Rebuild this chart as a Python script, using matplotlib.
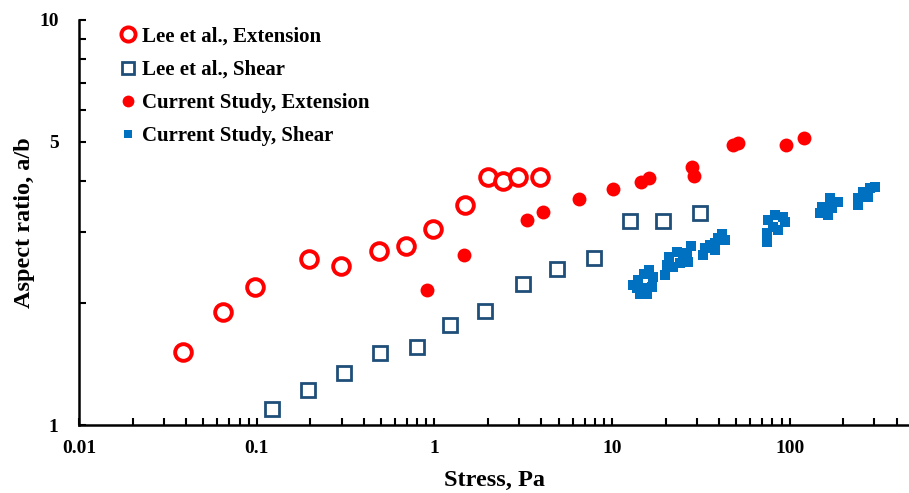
"""Aspect ratio vs stress, log-log scatter (Lee et al. vs current study)"""

import numpy as np
import matplotlib
matplotlib.use('Agg')
import matplotlib.pyplot as plt
from matplotlib.ticker import LogLocator, FixedLocator, NullFormatter

# Lee et al., extension
lee_ext_stress = [0.0385, 0.0645, 0.098, 0.197, 0.297, 0.489, 0.694, 0.985,
                  1.48, 1.99, 2.42, 2.94, 3.93]
lee_ext_ratio = [1.517, 1.905, 2.196, 2.57, 2.47, 2.69, 2.76, 3.05,
                 3.49, 4.10, 4.00, 4.10, 4.10]

# Lee et al., shear
lee_shear_stress = [0.121, 0.195, 0.308, 0.495, 0.797, 1.23, 1.92, 3.16,
                    4.9, 7.88, 12.6, 19.4, 31.3]
lee_shear_ratio = [1.095, 1.222, 1.341, 1.503, 1.561, 1.763, 1.915, 2.224,
                   2.424, 2.59, 3.196, 3.196, 3.34]

# Current study, extension
cur_ext_stress = [0.904, 1.47, 3.33, 4.07, 6.53, 10.07, 14.5, 16.2,
                  28.3, 29.0, 47.8, 51.4, 95.3, 120.5]
cur_ext_ratio = [2.15, 2.63, 3.21, 3.36, 3.61, 3.82, 3.99, 4.08,
                 4.33, 4.12, 4.90, 4.96, 4.90, 5.12]

# Current study, shear
cur_shear_stress = [13.06, 14.05, 15.12, 16.2, 16.7, 14.36, 15.67, 15.3, 17.06, 13.75,
                    19.86, 20.3, 20.99, 23.3, 25.2, 26.85, 24.1, 22.1, 27.7, 26.3,
                    32.6, 33.3, 35.6, 37.9, 39.6, 41.4, 43.2, 37.9,
                    74.2, 74.2, 75.8, 82.6, 92.0, 94.1, 86.3, 80.9,
                    151.4, 148.2, 164.9, 168.6, 187.8, 173.8,
                    243.3, 243.3, 259.5, 283.3, 302.2, 277.3]
cur_shear_ratio = [2.217, 2.28, 2.356, 2.414, 2.195, 2.102, 2.102, 2.175, 2.323, 2.175,
                   2.345, 2.483, 2.604, 2.669, 2.604, 2.530, 2.507, 2.46, 2.772, 2.654,
                   2.63, 2.73, 2.78, 2.81, 2.89, 2.97, 2.86, 2.70,
                   2.836, 2.973, 3.21, 3.30, 3.27, 3.18, 3.03, 3.09,
                   3.46, 3.33, 3.30, 3.63, 3.56, 3.43,
                   3.49, 3.63, 3.77, 3.84, 3.88, 3.66]

x_ticks = [0.01, 0.1, 1, 10, 100]
x_tick_labels = ['0.01', '0.1', '1', '10', '100']
y_ticks = [1, 5, 10]
y_tick_labels = ['1', '5', '10']

RED = '#FF0000'
NAVY = '#1F4E79'
BLUE = '#0070C0'

plt.rcParams['font.family'] = ['Liberation Serif', 'DejaVu Serif']
plt.rcParams['font.weight'] = 'bold'

fig = plt.figure(figsize=(9.09, 4.93), dpi=100)
ax = fig.add_axes([79.3 / 909, 68 / 493, (909 - 79.3) / 909, 405 / 493])

# Data series
ax.plot(lee_ext_stress, lee_ext_ratio, 'o', ls='none', ms=12, mfc='white',
        mec=RED, mew=2.8, label='Lee et al., Extension', zorder=3)
ax.plot(lee_shear_stress, lee_shear_ratio, 's', ls='none', ms=10, mfc='white',
        mec=NAVY, mew=2.0, label='Lee et al., Shear', zorder=3)
ax.plot(cur_ext_stress, cur_ext_ratio, 'o', ls='none', ms=10, mfc=RED,
        mec=RED, mew=0, label='Current Study, Extension', zorder=4)
ax.plot(cur_shear_stress, cur_shear_ratio, 's', ls='none', ms=6.5, mfc=BLUE,
        mec=BLUE, mew=0, label='Current Study, Shear', zorder=4)

ax.set_xscale('log')
ax.set_yscale('log')
ax.set_xlim(0.01, 470)
ax.set_ylim(1, 10)

# Axes styling
for side in ['top', 'right']:
    ax.spines[side].set_visible(False)
for side in ['left', 'bottom']:
    ax.spines[side].set_linewidth(1.8)
    ax.spines[side].set_color('black')

ax.xaxis.set_major_locator(FixedLocator(x_ticks))
ax.set_xticklabels(x_tick_labels)
ax.xaxis.set_minor_locator(LogLocator(base=10, subs=np.arange(2, 10)))
ax.xaxis.set_minor_formatter(NullFormatter())

ax.yaxis.set_major_locator(FixedLocator(y_ticks))
ax.set_yticklabels(y_tick_labels)
ax.yaxis.set_minor_locator(FixedLocator([2, 3, 4, 6, 7, 8, 9]))
ax.yaxis.set_minor_formatter(NullFormatter())

ax.tick_params(which='both', direction='in', width=1.5, length=5,
               labelsize=14, color='black')
ax.tick_params(axis='x', which='major', pad=11)
ax.tick_params(axis='y', which='major', pad=15)

ax.set_xlabel('Stress, Pa', fontsize=17.5, fontweight='bold', labelpad=9)
ax.set_ylabel('Aspect ratio, a/b', fontsize=17.5, fontweight='bold', labelpad=3)

ax.legend(loc='upper left', bbox_to_anchor=(0.0487, 0.984), frameon=False,
          fontsize=15, handlelength=0.8, handletextpad=0.26, labelspacing=0.64,
          markerscale=0.85, borderaxespad=0, borderpad=0)

fig.savefig('out.png', dpi=100)
